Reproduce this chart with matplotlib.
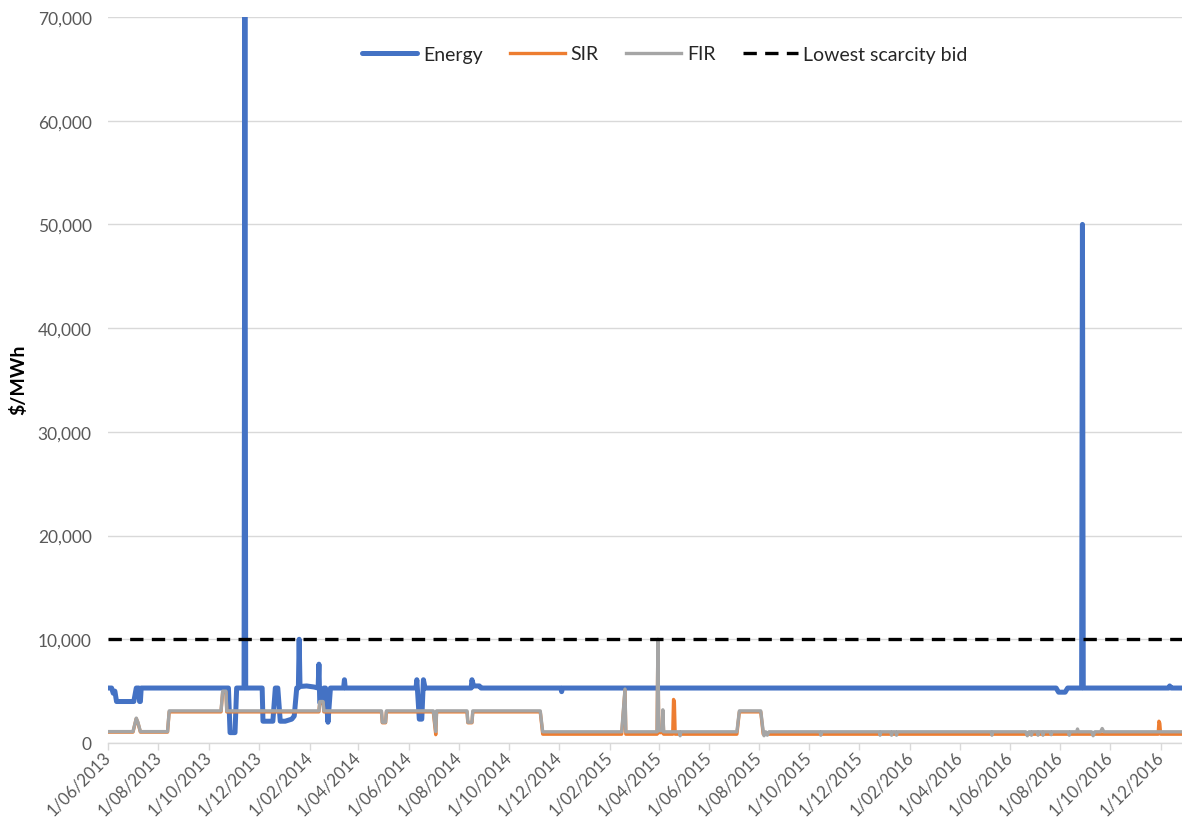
import numpy as np
import pandas as pd
import matplotlib
matplotlib.use("Agg")
import matplotlib.pyplot as plt
from matplotlib.ticker import FuncFormatter

plt.rcParams['font.family'] = ['Lato', 'DejaVu Sans']

# values, breakpoints of each line ($/MWh)
energy_dates = [
    "2013-06-01", "2013-06-05", "2013-06-07", "2013-06-09", "2013-06-11", "2013-07-02",
    "2013-07-05", "2013-07-08", "2013-07-09", "2013-07-10", "2013-07-11", "2013-10-25",
    "2013-10-27", "2013-11-02", "2013-11-04", "2013-11-13", "2013-11-14", "2013-11-15",
    "2013-12-05", "2013-12-06", "2013-12-18", "2013-12-21", "2013-12-24", "2013-12-27",
    "2014-01-02", "2014-01-10", "2014-01-13", "2014-01-16", "2014-01-18", "2014-01-19",
    "2014-01-20", "2014-01-28", "2014-02-06", "2014-02-11", "2014-02-12", "2014-02-13",
    "2014-02-16", "2014-02-18", "2014-02-20", "2014-02-23", "2014-02-26", "2014-03-14",
    "2014-03-15", "2014-03-16", "2014-06-10", "2014-06-11", "2014-06-14", "2014-06-17",
    "2014-06-19", "2014-06-21", "2014-08-16", "2014-08-17", "2014-08-19", "2014-08-26",
    "2014-08-28", "2014-12-03", "2014-12-04", "2014-12-05", "2016-07-27", "2016-07-30",
    "2016-08-07", "2016-08-10", "2016-08-27", "2016-08-28", "2016-08-29", "2016-12-11",
    "2016-12-12", "2016-12-14", "2016-12-27",
]
energy_vals = [
    5300, 5300, 4800, 5000, 4000, 4000,
    5300, 5300, 4000, 4000, 5300, 5300,
    1000, 1000, 5300, 5300, 70000, 5300,
    5300, 2100, 2100, 5300, 5300, 2100,
    2100, 2300, 2600, 5300, 5300, 10000,
    5450, 5500, 5400, 5300, 7600, 3900,
    3900, 5300, 5300, 2000, 5300, 5300,
    6100, 5300, 5300, 6100, 2300, 2300,
    6100, 5300, 5300, 6100, 5500, 5500,
    5300, 5300, 4950, 5300, 5300, 4900,
    4900, 5300, 5300, 50000, 5300, 5300,
    5500, 5300, 5300,
]

sir_dates = [
    "2013-06-01", "2013-07-01", "2013-07-05", "2013-07-07", "2013-07-10", "2013-08-12",
    "2013-08-14", "2013-10-16", "2013-10-18", "2013-10-22", "2013-10-23", "2014-02-12",
    "2014-02-13", "2014-02-17", "2014-02-18", "2014-04-29", "2014-04-30", "2014-05-04",
    "2014-05-05", "2014-07-01", "2014-07-04", "2014-07-05", "2014-08-11", "2014-08-12",
    "2014-08-17", "2014-08-18", "2014-11-08", "2014-11-11", "2015-02-15", "2015-02-19",
    "2015-02-20", "2015-03-30", "2015-03-31", "2015-04-01", "2015-04-05", "2015-04-06",
    "2015-04-07", "2015-04-18", "2015-04-19", "2015-04-20", "2015-04-21", "2015-07-05",
    "2015-07-08", "2015-08-03", "2015-08-06", "2016-11-28", "2016-11-29", "2016-11-30",
    "2016-12-01", "2016-12-27",
]
sir_vals = [
    1050, 1050, 2350, 1950, 1050, 1050,
    3000, 3000, 4900, 4900, 3000, 3000,
    3900, 3900, 3000, 3000, 1950, 1950,
    3000, 3000, 800, 3000, 3000, 1950,
    1950, 3000, 3000, 850, 850, 5100,
    850, 850, 9900, 1000, 1000, 3100,
    850, 850, 4200, 4000, 850, 850,
    3000, 3000, 850, 850, 2100, 1900,
    850, 850,
]

fir_dates = [
    "2013-06-01", "2013-07-01", "2013-07-05", "2013-07-07", "2013-07-10", "2013-08-12",
    "2013-08-14", "2013-10-16", "2013-10-18", "2013-10-22", "2013-10-23", "2014-02-12",
    "2014-02-13", "2014-02-17", "2014-02-18", "2014-04-29", "2014-04-30", "2014-05-04",
    "2014-05-05", "2014-07-01", "2014-07-04", "2014-07-05", "2014-08-11", "2014-08-12",
    "2014-08-17", "2014-08-18", "2014-11-08", "2014-11-11", "2015-02-15", "2015-02-19",
    "2015-02-20", "2015-03-30", "2015-03-31", "2015-04-01", "2015-04-05", "2015-04-06",
    "2015-04-07", "2015-04-26", "2015-04-27", "2015-04-28", "2015-07-05", "2015-07-08",
    "2015-08-03", "2015-08-06", "2015-08-07", "2015-08-09", "2015-08-11", "2015-08-13",
    "2015-10-14", "2015-10-15", "2015-10-16", "2015-12-25", "2015-12-26", "2015-12-27",
    "2016-01-08", "2016-01-09", "2016-01-10", "2016-01-14", "2016-01-15", "2016-01-16",
    "2016-05-09", "2016-05-10", "2016-05-11", "2016-06-20", "2016-06-22", "2016-06-24",
    "2016-06-26", "2016-06-27", "2016-06-28", "2016-07-04", "2016-07-05", "2016-07-06",
    "2016-07-10", "2016-07-11", "2016-07-12", "2016-07-20", "2016-07-21", "2016-07-22",
    "2016-08-11", "2016-08-12", "2016-08-13", "2016-08-21", "2016-08-22", "2016-08-23",
    "2016-09-08", "2016-09-10", "2016-09-12", "2016-09-19", "2016-09-21", "2016-09-23",
    "2016-12-27",
]
fir_vals = [
    1100, 1100, 2400, 2000, 1100, 1100,
    3100, 3100, 5000, 5000, 3100, 3100,
    4000, 4000, 3100, 3100, 2000, 2000,
    3100, 3100, 1100, 3100, 3100, 2000,
    2000, 3100, 3100, 1080, 1080, 5200,
    1080, 1080, 10000, 1200, 1200, 3200,
    1080, 1080, 700, 1080, 1080, 3100,
    3100, 1080, 700, 1080, 750, 1080,
    1080, 750, 1080, 1080, 750, 1080,
    1080, 750, 1080, 1080, 750, 1080,
    1080, 750, 1080, 1080, 700, 1080,
    1080, 750, 1080, 1080, 750, 1080,
    1080, 750, 1080, 1080, 800, 1080,
    1080, 750, 1080, 1080, 1350, 1080,
    1080, 700, 1080, 1080, 1400, 1080,
    1080,
]

scarcity_bid = 10000
x_start, x_end = "2013-06-01", "2016-12-27"

W, H = 1182, 828
fig = plt.figure(figsize=(W / 100, H / 100), dpi=100)
ax = fig.add_axes([108.3 / W, 1 - 744 / H, (W - 108.3) / W, (744 - 18) / H])

ax.plot(pd.to_datetime(energy_dates), energy_vals, color="#4472C4", lw=3.6,
        solid_joinstyle="round", solid_capstyle="round", label="Energy", zorder=3)
ax.plot(pd.to_datetime(sir_dates), sir_vals, color="#ED7D31", lw=2.4,
        solid_joinstyle="round", label="SIR", zorder=4)
ax.plot(pd.to_datetime(fir_dates), fir_vals, color="#A5A5A5", lw=2.4,
        solid_joinstyle="round", label="FIR", zorder=5)
ax.plot(pd.to_datetime([x_start, x_end]), [scarcity_bid, scarcity_bid], color="black",
        lw=2.4, linestyle=(0, (4, 2.5)), label="Lowest scarcity bid", zorder=6)

ax.set_xlim(pd.Timestamp(x_start), pd.Timestamp(x_end))
ax.set_ylim(0, 70000)
ax.set_yticks(np.arange(0, 70001, 10000))
ax.yaxis.set_major_formatter(FuncFormatter(lambda v, p: f"{int(v):,}"))

tick_dates = pd.date_range("2013-06-01", "2016-12-01", freq="2MS")
ax.set_xticks(tick_dates)
ax.set_xticklabels([f"1/{d.month:02d}/{d.year}" for d in tick_dates],
                   rotation=45, ha="right", va="center", rotation_mode="anchor")

ax.grid(axis="y", color="#D9D9D9", lw=1.0, zorder=0)
for s in ["top", "right", "left"]:
    ax.spines[s].set_visible(False)
ax.spines["bottom"].set_color("#D9D9D9")
ax.spines["bottom"].set_linewidth(1.0)
ax.tick_params(axis="y", length=0, pad=12, labelsize=12.5, labelcolor="#595959")
ax.tick_params(axis="x", length=5, width=1.0, color="#D9D9D9", pad=3,
               labelsize=12, labelcolor="#595959")

fig.text(18 / W, 1 - 380 / H, "$/MWh", rotation=90, ha="center", va="center",
         fontsize=14, fontweight="bold", color="black")

ax.legend(loc="center", bbox_to_anchor=(665 / W, 1 - 55 / H), bbox_transform=fig.transFigure,
          ncol=4, frameon=False, fontsize=14, handlelength=2.83, handletextpad=0.3,
          columnspacing=1.4, labelcolor="#262626")

fig.savefig("out.png", dpi=100)
